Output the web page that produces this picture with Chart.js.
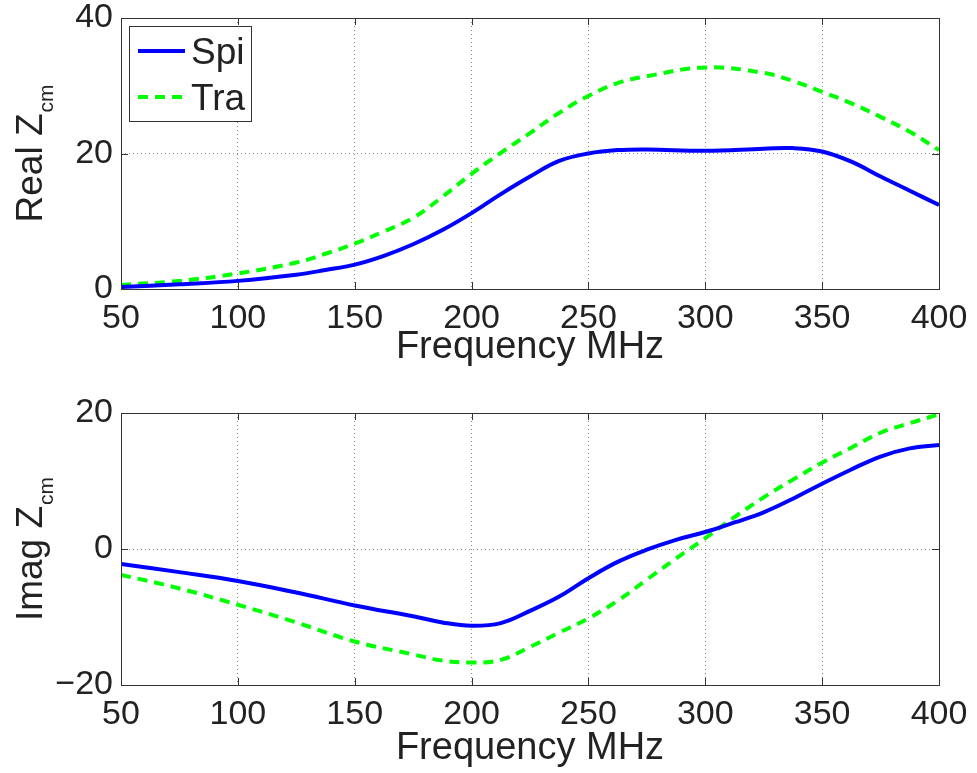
<!DOCTYPE html>
<html><head><meta charset="utf-8">
<script src="https://cdn.jsdelivr.net/npm/chart.js@4"></script>
<style>
html,body{margin:0;padding:0;background:#fff;}
#w{position:relative;width:977px;height:773px;overflow:hidden;}
canvas{position:absolute;left:0;}
#top{top:0;}
#bot{top:390px;}
</style></head><body>
<div id="w"><canvas id="top" width="977" height="390"></canvas><canvas id="bot" width="977" height="383"></canvas></div>
<script>
// ---- data ----
const freqReal = [50,75,100,125,137.5,150,162.5,175,187.5,200,212.5,225,237.5,250,262.5,275,300,325,337.5,350,362.5,375,387.5,400];
const spiReal  = [0.3,0.7,1.2,2.1,2.8,3.6,4.9,6.6,8.7,11.2,14.0,16.6,18.9,20.0,20.5,20.6,20.4,20.7,20.8,20.3,18.8,16.6,14.5,12.4];
const traReal  = [0.6,1.2,2.3,3.9,5.2,6.7,8.5,10.5,13.6,17.0,20.1,23.0,26.0,28.5,30.4,31.4,32.7,31.9,30.7,29.1,27.4,25.4,23.2,20.5];

const freqImag = [50,75,100,125,150,175,187.5,200,212.5,225,237.5,250,262.5,275,287.5,300,312.5,325,337.5,350,362.5,375,387.5,400];
const spiImag  = [-2.2,-3.4,-4.7,-6.4,-8.3,-9.9,-10.8,-11.3,-10.9,-9.1,-7.0,-4.3,-1.9,-0.1,1.35,2.5,3.9,5.4,7.4,9.6,11.7,13.6,14.8,15.3];
const traImag  = [-3.8,-5.8,-8.2,-10.8,-13.6,-15.5,-16.4,-16.7,-16.3,-14.4,-12.3,-10.2,-7.6,-4.5,-1.4,1.6,4.7,7.6,10.2,12.7,14.9,17.1,18.5,19.8];

const xTicks = [50,100,150,200,250,300,350,400];
const yTicksReal = [0,20,40];
const yTicksImag = [-20,0,20];
const seriesNames = ['Spi','Tra'];

const FONT = "'Liberation Sans', Arial, Helvetica, sans-serif";
const TXT = '#222';
const BLUE = '#0000ff', GREEN = '#00ff00';

function pts(xs, ys){ return xs.map((x,i)=>({x:x, y:ys[i]})); }

const framePlugin = {
  id:'frame',
  afterDraw(chart){
    const {ctx, chartArea:a, scales:{x,y}} = chart;
    ctx.save();
    ctx.strokeStyle = '#333'; ctx.lineWidth = 1;
    ctx.strokeRect(a.left+0.5, a.top+0.5, a.right-a.left, a.bottom-a.top);
    const L = 7;
    ctx.beginPath();
    x.ticks.forEach(t=>{
      const px = Math.round(x.getPixelForValue(t.value))+0.5;
      ctx.moveTo(px, a.bottom); ctx.lineTo(px, a.bottom-L);
      ctx.moveTo(px, a.top); ctx.lineTo(px, a.top+L);
    });
    y.ticks.forEach(t=>{
      const py = Math.round(y.getPixelForValue(t.value))+0.5;
      ctx.moveTo(a.left, py); ctx.lineTo(a.left+L, py);
      ctx.moveTo(a.right, py); ctx.lineTo(a.right-L, py);
    });
    ctx.stroke();
    ctx.restore();
  }
};

const yTitlePlugin = {
  id:'ytitle',
  afterDraw(chart, args, opts){
    const {ctx, chartArea:a} = chart;
    ctx.save();
    ctx.fillStyle = TXT;
    ctx.textBaseline = 'alphabetic';
    ctx.textAlign = 'left';
    ctx.font = '37px ' + FONT;
    const w1 = ctx.measureText(opts.main).width;
    ctx.font = '21px ' + FONT;
    const w2 = ctx.measureText(opts.sub).width;
    const total = w1 + 1 + w2;
    const cy = (a.top + a.bottom)/2;
    ctx.translate(42, cy + total/2);
    ctx.rotate(-Math.PI/2);
    ctx.font = '37px ' + FONT;
    ctx.fillText(opts.main, 0, 0);
    ctx.font = '21px ' + FONT;
    ctx.fillText(opts.sub, w1 + 1, 11);
    ctx.restore();
  }
};

const legendPlugin = {
  id:'boxlegend',
  afterDraw(chart, args, opts){
    if(!opts.show) return;
    const {ctx} = chart;
    ctx.save();
    ctx.fillStyle = '#fff';
    ctx.fillRect(129, 26, 123, 96);
    ctx.strokeStyle = '#333'; ctx.lineWidth = 1;
    ctx.strokeRect(129.5, 26.5, 122, 95);
    const rows = [51, 97];
    chart.data.datasets.forEach((ds,i)=>{
      const y = rows[i];
      ctx.strokeStyle = ds.borderColor; ctx.lineWidth = 4;
      ctx.setLineDash(ds.borderDash || []);
      ctx.beginPath(); ctx.moveTo(138, y); ctx.lineTo(185, y); ctx.stroke();
      ctx.setLineDash([]);
      ctx.fillStyle = TXT;
      ctx.font = '37px ' + FONT;
      ctx.textBaseline = 'alphabetic';
      ctx.fillText(ds.label, 191, y + 13);
    });
    ctx.restore();
  }
};

function makeChart(id, xs, s1, s2, yTicks, cfg){
  return new Chart(document.getElementById(id), {
    type:'line',
    data:{ datasets:[
      {label:seriesNames[0], data:pts(xs,s1), borderColor:BLUE, borderWidth:4, pointRadius:0, tension:0.4, fill:false},
      {label:seriesNames[1], data:pts(xs,s2), borderColor:GREEN, borderWidth:4, borderDash:[10,7], pointRadius:0, tension:0.4, fill:false}
    ]},
    options:{
      responsive:false, animation:false, events:[],
      layout:{padding:{top:cfg.padTop, right:38, left:0, bottom:0}},
      plugins:{ legend:{display:false}, tooltip:{enabled:false},
        ytitle:{main:cfg.yMain, sub:'cm'},
        boxlegend:{show:cfg.legend} },
      scales:{
        x:{ type:'linear', min:xTicks[0], max:xTicks[xTicks.length-1],
            afterBuildTicks(s){ s.ticks = xTicks.map(v=>({value:v})); },
            afterFit(s){ s.height = cfg.xHeight; s.paddingLeft = 0; s.paddingRight = 0; },
            ticks:{ autoSkip:false, maxRotation:0, padding:9, color:TXT, font:{family:FONT, size:34} },
            grid:{ color:'rgba(0,0,0,0.45)', lineWidth:1, drawTicks:false },
            border:{ display:false, dash:[1,3] },
            title:{ display:true, text:'Frequency MHz', color:TXT, font:{family:FONT, size:38, lineHeight:1}, padding:{top:0, bottom:cfg.titlePad} }
        },
        y:{ type:'linear', min:yTicks[0], max:yTicks[yTicks.length-1],
            afterBuildTicks(s){ s.ticks = yTicks.map(v=>({value:v})); },
            afterFit(s){ s.width = 121; s.paddingTop = 0; s.paddingBottom = 0; },
            ticks:{ padding:8, color:TXT, font:{family:FONT, size:34}, callback:v=>String(v).replace('-', '\u2212') },
            grid:{ color:'rgba(0,0,0,0.45)', lineWidth:1, drawTicks:false },
            border:{ display:false, dash:[1,3] }
        }
      }
    },
    plugins:[framePlugin, yTitlePlugin, legendPlugin]
  });
}

makeChart('top', freqReal, spiReal, traReal, yTicksReal, {padTop:18, xHeight:101, titlePad:23, yMain:'Real Z', legend:true});
makeChart('bot', freqImag, spiImag, traImag, yTicksImag, {padTop:23, xHeight:88, titlePad:5, yMain:'Imag Z', legend:false});
</script>
</body></html>
